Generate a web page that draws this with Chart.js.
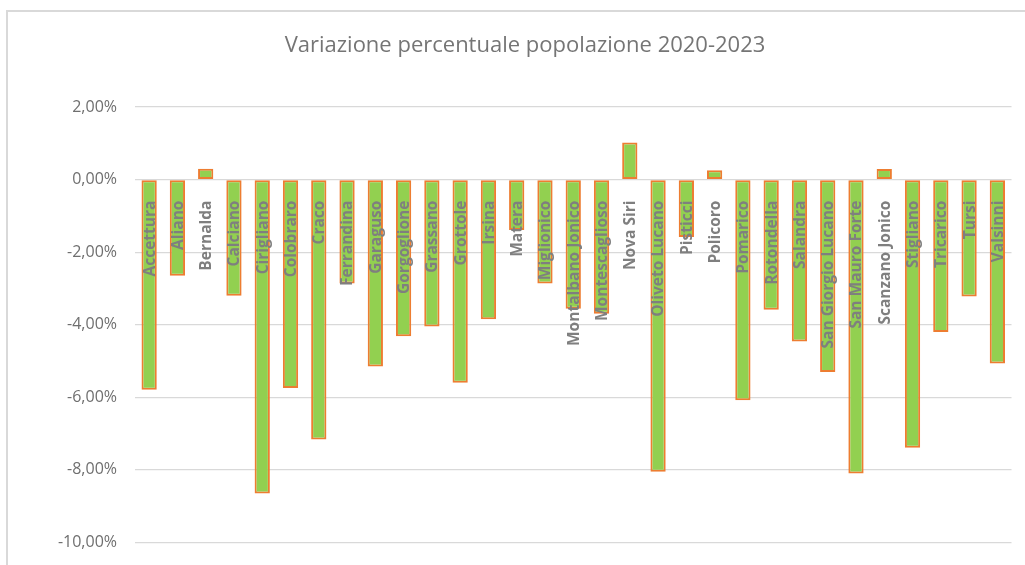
<!DOCTYPE html>
<html>
<head>
<meta charset="utf-8">
<script src="https://cdn.jsdelivr.net/npm/chart.js@4"></script>
<style>
  html, body { margin: 0; padding: 0; background: #fff; overflow: hidden; }
  #frame { position: absolute; left: 6px; top: 10px; width: 1100px; height: 700px; border: 2px solid #d9d9d9; box-sizing: border-box; }
  #wrap { position: absolute; left: 0; top: 0; width: 1025px; height: 565px; }
</style>
</head>
<body>
<div id="frame"></div>
<div id="wrap"><canvas id="chart" width="1025" height="565"></canvas></div>
<script>
// Comuni
const comuni = ['Accettura', 'Aliano', 'Bernalda', 'Calciano', 'Cirigliano', 'Colobraro', 'Craco',
  'Ferrandina', 'Garaguso', 'Gorgoglione', 'Grassano', 'Grottole', 'Irsina', 'Matera', 'Miglionico',
  'Montalbano Jonico', 'Montescaglioso', 'Nova Siri', 'Oliveto Lucano', 'Pisticci', 'Policoro',
  'Pomarico', 'Rotondella', 'Salandra', 'San Giorgio Lucano', 'San Mauro Forte', 'Scanzano Jonico',
  'Stigliano', 'Tricarico', 'Tursi', 'Valsinni'];

// Variazione % 2020-2023
const variazione = [-5.79, -2.65, 0.30, -3.20, -8.65, -5.74, -7.16,
  -2.86, -5.15, -4.32, -4.05, -5.60, -3.85, -1.39, -2.86,
  -3.56, -3.70, 1.02, -8.05, -1.58, 0.26,
  -6.08, -3.59, -4.46, -5.30, -8.10, 0.29,
  -7.39, -4.20, -3.22, -5.07];

// Asse y
const yMin = -10;
const yMax = 2;
const yStep = 2;

const titolo = 'Variazione percentuale popolazione 2020-2023';

function fmtPerc(v) {
  return v.toFixed(2).replace('.', ',') + '%';
}

// Etichette dei comuni dentro le barre (sotto lo zero)
const labelPlugin = {
  id: 'labelComuni',
  afterDatasetsDraw(chart) {
    const ctx = chart.ctx;
    const x = chart.scales.x;
    const y = chart.scales.y;
    const y0 = y.getPixelForValue(0) + 21;
    ctx.save();
    ctx.font = 'bold 15.5px "Open Sans"';
    ctx.fillStyle = '#7f7f7f';
    ctx.textAlign = 'right';
    ctx.textBaseline = 'middle';
    comuni.forEach((c, i) => {
      ctx.save();
      ctx.translate(x.getPixelForValue(i) + 1, y0);
      ctx.rotate(-Math.PI / 2);
      ctx.fillText(c, 0, 0);
      ctx.restore();
    });
    ctx.restore();
  }
};

// Titolo
const titlePlugin = {
  id: 'titolo',
  afterDraw(chart) {
    const ctx = chart.ctx;
    ctx.save();
    ctx.font = '22px "Open Sans"';
    ctx.fillStyle = '#757575';
    ctx.textAlign = 'center';
    ctx.textBaseline = 'middle';
    ctx.fillText(titolo, 525, 46);
    ctx.restore();
  }
};

new Chart(document.getElementById('chart'), {
  type: 'bar',
  data: {
    labels: comuni,
    datasets: [{
      data: variazione,
      backgroundColor: '#92d050',
      borderColor: '#ed7d31',
      borderWidth: 2,
      borderSkipped: false,
      barPercentage: 0.54,
      categoryPercentage: 1
    }]
  },
  options: {
    responsive: false,
    animation: false,
    layout: { padding: { top: 107, bottom: 22.5, left: 0, right: 13.5 } },
    plugins: { legend: { display: false }, tooltip: { enabled: false } },
    scales: {
      x: { display: false },
      y: {
        min: yMin,
        max: yMax,
        ticks: {
          stepSize: yStep,
          color: '#6f6f6f',
          font: { family: 'Open Sans', size: 16 },
          padding: 18,
          callback: (v) => fmtPerc(v)
        },
        grid: { color: '#d9d9d9', lineWidth: 1.3, drawTicks: false },
        border: { display: false },
        afterFit(scale) {
          scale.width = 135;
          // niente padding extra sopra/sotto
          scale.paddingTop = 0;
          scale.paddingBottom = 0;
        }
      }
    }
  },
  plugins: [labelPlugin, titlePlugin]
});
</script>
</body>
</html>
